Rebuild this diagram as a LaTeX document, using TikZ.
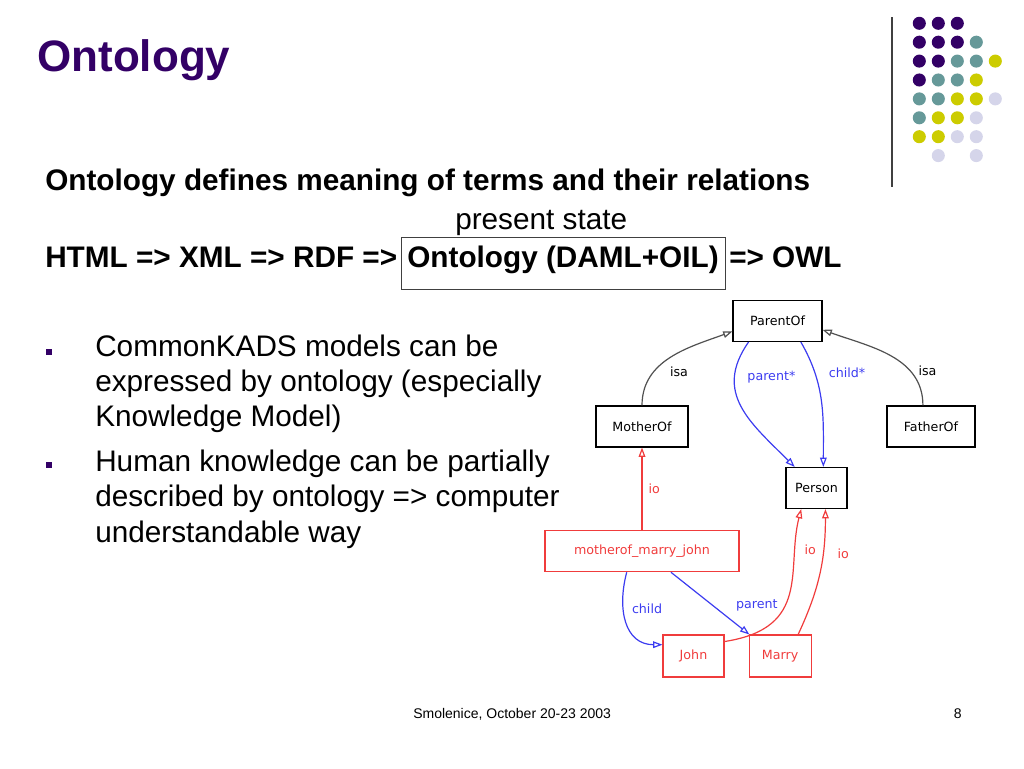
\documentclass[tikz,border=0pt]{standalone}
\usepackage{fontspec}
\setmainfont{Liberation Sans}
\newfontfamily\diagfont{DejaVu Sans}
\usepackage{tikz}
\usetikzlibrary{positioning}
\usetikzlibrary{arrows.meta}
\definecolor{ttlpurple}{HTML}{330066}
\definecolor{dotteal}{HTML}{669999}
\definecolor{dotyellow}{HTML}{CCCC00}
\definecolor{dotlav}{HTML}{D5D5EA}
\definecolor{iored}{HTML}{F03C3C}
\definecolor{relblue}{HTML}{3C3CF0}
\definecolor{isagray}{HTML}{505050}
\definecolor{rulegray}{HTML}{404040}
\newcommand{\diagsize}{\diagfont\fontsize{9.5}{11}\selectfont}
\newcommand{\titlesize}{\fontsize{33}{36}\selectfont}
\newcommand{\bodysize}{\fontsize{22.3}{26}\selectfont}
\newcommand{\footsize}{\fontsize{10.5}{12}\selectfont}
\tikzset{%
  isaarrow/.style = {-{Triangle[open,length=7pt,width=5pt]},draw=isagray,line width=0.9pt},
  relarrow/.style = {-{Triangle[open,length=7pt,width=5pt]},draw=relblue,line width=0.9pt},
  ioarrow/.style = {-{Triangle[open,length=7pt,width=5pt]},draw=iored,line width=0.9pt},
  cls/.style = {rectangle,draw,solid,font=\diagsize,minimum height=30.75pt,
        inner sep=0pt,line width=0.8pt},
  inst/.style = {cls,draw=iored,text=iored},
  lbl/.style = {font=\diagsize,inner sep=1pt,anchor=west},
  txt/.style = {anchor=base west,inner sep=0pt,font=\bodysize},
  bull/.style = {rectangle,fill=ttlpurple,minimum size=4.5pt,inner sep=0pt}
}

\begin{document}
\begin{tikzpicture}[x=0.75pt,y=0.75pt]
                \useasboundingbox (0,0) rectangle (1024,768);
                % slide text
                \node[txt,font=\titlesize\bfseries,text=ttlpurple] (title) at (37,696) {Ontology};
                \node[txt,font=\bodysize\bfseries] (defines) at (45,577) {Ontology defines meaning of terms and their relations};
                \node[txt] (present) at (455,538) {present state};
                \node[txt,font=\bodysize\bfseries] (html) at (45,500) {HTML => XML => RDF =>};
                \node[draw=rulegray,anchor=base,inner sep=0pt,font=\bodysize\bfseries,minimum width=243pt,
                      text height=22.5pt,text depth=16.5pt,line width=0.75pt] (daml) at (563,500) {Ontology (DAML+OIL)};
                \node[txt,font=\bodysize\bfseries] (owl) at (729,500) {=> OWL};

                \node[bull] (b1) at (49,416) {};
                \node[txt] (l1) at (95,411) {CommonKADS models can be};
                \node[txt] (l2) at (95,376) {expressed by ontology (especially};
                \node[txt] (l3) at (95,341) {Knowledge Model)};
                \node[bull] (b2) at (49,303) {};
                \node[txt] (l4) at (95,296) {Human knowledge can be partially};
                \node[txt] (l5) at (95,261) {described by ontology => computer};
                \node[txt] (l6) at (95,226) {understandable way};

                \node[txt,font=\footsize] (foot) at (413,50) {Smolenice, October 20-23 2003};
                \node[txt,font=\footsize,anchor=base east] (page) at (962,50) {8};

                % corner decoration
                \draw[line width=1pt,draw=rulegray] (892,581) -- (892,751);
                \foreach \c/\r/\col in {0/0/ttlpurple,1/0/ttlpurple,2/0/ttlpurple,
                        0/1/ttlpurple,1/1/ttlpurple,2/1/ttlpurple,3/1/dotteal,
                        0/2/ttlpurple,1/2/ttlpurple,2/2/dotteal,3/2/dotteal,4/2/dotyellow,
                        0/3/ttlpurple,1/3/dotteal,2/3/dotteal,3/3/dotyellow,
                        0/4/dotteal,1/4/dotteal,2/4/dotyellow,3/4/dotyellow,4/4/dotlav,
                        0/5/dotteal,1/5/dotyellow,2/5/dotyellow,3/5/dotlav,
                        0/6/dotyellow,1/6/dotyellow,2/6/dotlav,3/6/dotlav,
                        1/7/dotlav,3/7/dotlav}
                    \fill[\col] ({919.3+19*\c},{744.7-18.9*\r}) circle (4.9pt);

                % ontology graph
                \node[cls,minimum width=66.75pt] (parentof) at (777.5,447) {ParentOf};
                \node[cls,minimum width=69pt] (motherof) at (642,341.5) {MotherOf};
                \node[cls,minimum width=66pt] (fatherof) at (931,341.5) {FatherOf};
                \node[cls,minimum width=45.75pt] (person) at (816.5,280) {Person};
                \node[inst,minimum width=145.5pt] (mmj) [below=62pt of motherof] {motherof\_marry\_john};
                \node[inst,minimum width=45.75pt,minimum height=31.5pt] (john) at (693.5,112) {John};
                \node[inst,minimum width=46.5pt,minimum height=31.5pt] (marry) [right=18pt of john] {Marry};

                \path (motherof.north) edge[isaarrow,out=90,in=200] node[lbl,pos=0.3,xshift=11pt] {isa} (parentof.193)
                      (fatherof.111) edge[isaarrow,out=90,in=-20] node[lbl,pos=0.3,xshift=5pt] {isa} (parentof.349)
                      (parentof.216) edge[relarrow,out=235,in=135,looseness=1.2] node[lbl,pos=0.25,xshift=8.3pt,text=relblue] {parent*} (person.136)
                      (parentof.318) edge[relarrow,out=-60,in=90] node[lbl,pos=0.25,xshift=9pt,text=relblue] {child*} (person.72)
                      (mmj.north) edge[ioarrow] node[lbl,pos=0.5,xshift=3.5pt,text=iored] {io} (motherof.south)
                      (marry.50) edge[ioarrow,out=65,in=270] node[lbl,pos=0.67,xshift=9.4pt,text=iored] {io} (person.293)
                      (mmj.234) edge[relarrow,out=-105,in=180,looseness=1.2] node[lbl,pos=0.35,xshift=5pt,text=relblue] {child} (john.160)
                      (mmj.324) edge[relarrow] node[lbl,pos=0.53,xshift=16.2pt,text=relblue] {parent} (marry.145);
                \draw[ioarrow] (john.25) .. controls (812,140) and (786,200) .. node[lbl,pos=0.77,xshift=5.5pt,text=iored] {io} (person.234);
\end{tikzpicture}
\end{document}
